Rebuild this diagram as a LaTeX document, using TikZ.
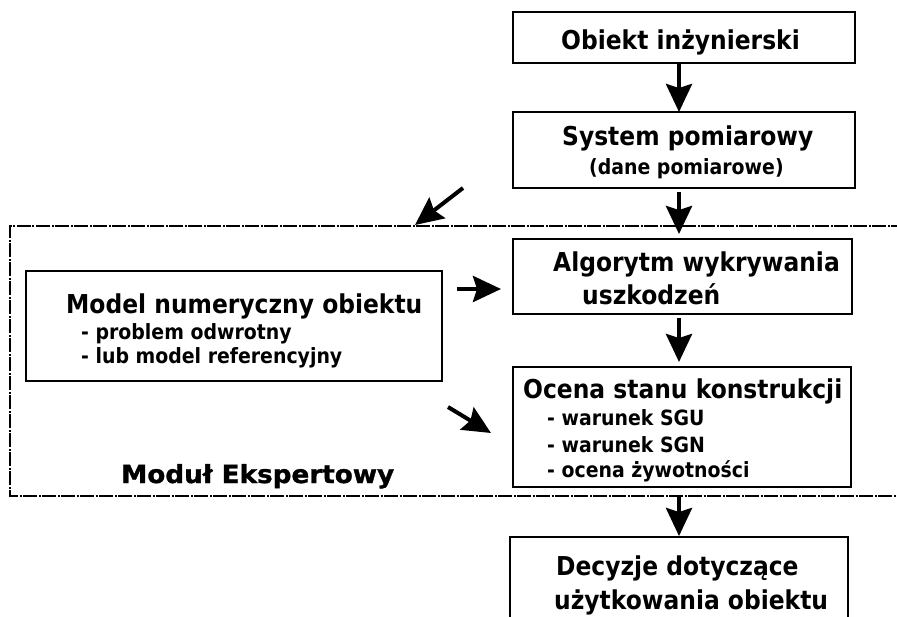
\documentclass[tikz,border=0pt]{standalone}
\usepackage{fontspec}
\setmainfont{DejaVu Sans}
\newfontfamily\boxfont[FakeStretch=0.9]{DejaVu Sans Bold}
\newfontfamily\heavyfont[FakeBold=1.2,FakeStretch=1.05]{DejaVu Sans Bold}
\usetikzlibrary{arrows.meta,calc}
\tikzset{
  box/.style={draw=black,line width=2.8pt,rectangle,inner sep=0pt,outer sep=0pt},
  big/.style={inner sep=0pt,anchor=base west,font=\boxfont\fontsize{26}{30}\selectfont},
  small/.style={inner sep=0pt,anchor=base west,font=\boxfont\fontsize{21}{25}\selectfont},
  title/.style={inner sep=0pt,anchor=base west,font=\heavyfont\fontsize{25}{30}\selectfont},
  arr/.style={line width=4pt,-{Stealth[length=28pt,width=26pt,inset=4pt]}},
  frame/.style={line width=1.7pt,dash pattern=on 14pt off 1.5pt on 2pt off 1.5pt}
}
\begin{document}
\begin{tikzpicture}[x=1pt,y=-1pt]
\useasboundingbox (0,0) rectangle (897,616);
\clip (0,0) rectangle (897,616);
% boxes
\node[box,minimum width=342pt,minimum height=51pt] (obiekt) at (684,37.5) {};
\node[box,minimum width=342pt,minimum height=76pt] (system) at (684,150) {};
\node[box,minimum width=339pt,minimum height=75pt] (alg) at (682.5,276.5) {};
\node[box,minimum width=338pt,minimum height=120pt] (ocena) at (682,427) {};
\node[box,minimum width=416pt,minimum height=110pt] (model) at (234,326) {};
\node[box,minimum width=338pt,minimum height=90pt] (decyzje) at (679,582) {};
% expert module frame
\coordinate (frTR) at (905,226);
\coordinate (frTL) at (10,226);
\coordinate (frBL) at (10,496);
\coordinate (frBR) at (905,496);
\draw[frame] (frTR) -- (frTL) -- (frBL) -- (frBR);
% texts
\node[big] (t1) at (561,49) {Obiekt inżynierski};
\node[big] (t2) at (562,145) {System pomiarowy};
\node[small] (t3) at (589,174) {(dane pomiarowe)};
\node[big] (t4) at (553,271) {Algorytm wykrywania};
\node[big] (t5) at (582,304) {uszkodzeń};
\node[big] (t6) at (523,398) {Ocena stanu konstrukcji};
\node[small] (t7) at (547,425) {- warunek SGU};
\node[small] (t8) at (547,452) {- warunek SGN};
\node[small] (t9) at (547,477) {- ocena żywotności};
\node[big] (t10) at (66,313) {Model numeryczny obiektu};
\node[small] (t11) at (81,339) {- problem odwrotny};
\node[small] (t12) at (81,363) {- lub model referencyjny};
\node[big] (t13) at (556,575) {Decyzje dotyczące};
\node[big] (t14) at (554,609) {użytkowania obiektu};
\node[title] (t15) at (121,483) {Moduł Ekspertowy};
% arrows between boxes
\draw[arr] (obiekt.south -| decyzje.north) -- (system.north -| decyzje.north);
\draw[arr,shorten <=4pt,shorten >=5pt] (system.south -| decyzje.north) -- (alg.north -| decyzje.north);
\draw[arr,shorten <=4pt,shorten >=5pt] (alg.south -| decyzje.north) -- (ocena.north -| decyzje.north);
\draw[arr,shorten <=10pt,shorten >=1pt] (ocena.south -| decyzje.north) -- (decyzje.north);
% free arrows
\coordinate (d1s) at (463,188);
\coordinate (d1e) at (415,225);
\coordinate (h1s) at (457,289);
\coordinate (h1e) at (501,289);
\coordinate (d2s) at (448,407);
\coordinate (d2e) at (491,433);
\draw[arr] (d1s) -- (d1e);
\draw[arr] (h1s) -- (h1e);
\draw[arr] (d2s) -- (d2e);
\end{tikzpicture}
\end{document}
